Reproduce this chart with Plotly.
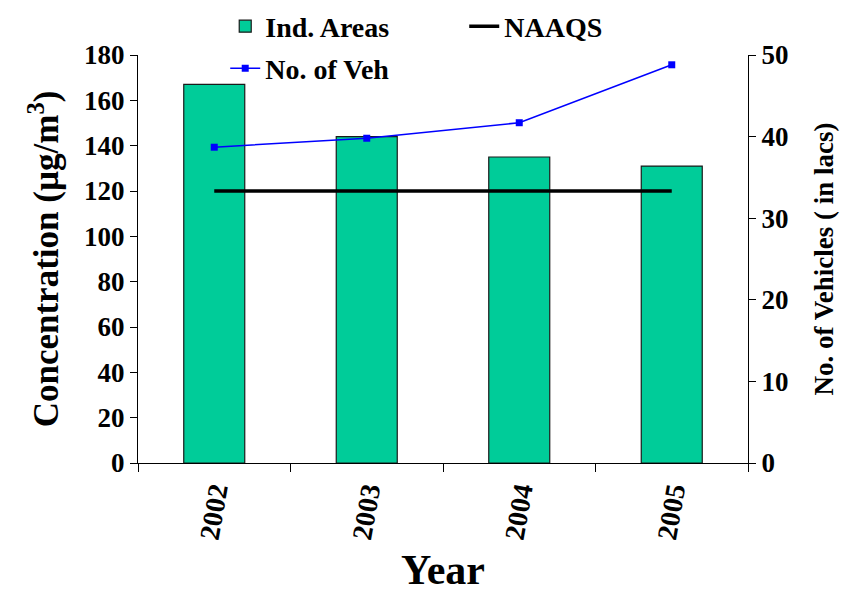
import plotly.graph_objects as go

# data
years = ['2002', '2003', '2004', '2005']
ind_areas = [167, 144, 135, 131]
naaqs = [120, 120, 120, 120]
no_of_veh = [38.7, 39.8, 41.7, 48.8]

font_family = 'Liberation Serif'

fig = go.Figure()

fig.add_trace(go.Bar(
    x=years, y=ind_areas, name='Ind. Areas',
    marker=dict(color='#00CC99', line=dict(color='#1a1a1a', width=1.2)),
    width=0.4, legend='legend',
))
fig.add_trace(go.Scatter(
    x=years, y=naaqs, name='NAAQS', mode='lines',
    line=dict(color='black', width=3.5), legend='legend',
))
fig.add_trace(go.Scatter(
    x=years, y=no_of_veh, name='No. of Veh', mode='lines+markers',
    line=dict(color='#0000FF', width=1.5),
    marker=dict(symbol='square', size=7, color='#0000FF'),
    yaxis='y2', legend='legend2',
))

# page body has an 8px margin, so the figure is sized/offset to compensate
fig.update_layout(
    width=846, height=585,
    margin=dict(l=130, r=106, t=47, b=130, autoexpand=False),
    plot_bgcolor='white', paper_bgcolor='white',
    font=dict(family=font_family, color='black'),
    legend=dict(
        orientation='h', x=0.143, xanchor='left', y=1.07, yanchor='middle',
        font=dict(size=28, family=font_family, weight='bold'),
        entrywidth=194, bgcolor='rgba(0,0,0,0)',
    ),
    legend2=dict(
        orientation='h', x=0.143, xanchor='left', y=0.967, yanchor='middle',
        font=dict(size=28, family=font_family, weight='bold'),
        bgcolor='rgba(0,0,0,0)',
    ),
    xaxis=dict(
        title=dict(text='Year', font=dict(size=42, weight='bold'), standoff=16),
        tickangle=-80,
        tickfont=dict(size=28, weight='bold'),
        showline=True, linecolor='black', linewidth=1,
        ticks='outside', tickson='boundaries', ticklen=8, tickcolor='black',
        showgrid=False,
    ),
    yaxis=dict(
        title=dict(text='Concentration (µg/m<sup>3</sup>)', font=dict(size=35, weight='bold'), standoff=14),
        range=[0, 180], dtick=20,
        tickfont=dict(size=27, weight='bold'),
        showline=True, linecolor='black', linewidth=1,
        ticks='outside', ticklen=7, tickcolor='black',
        showgrid=False, zeroline=False,
    ),
    yaxis2=dict(
        title=dict(text='No. of Vehicles ( in lacs)', font=dict(size=27, weight='bold'), standoff=26),
        overlaying='y', side='right',
        range=[0, 50], dtick=10,
        tickfont=dict(size=27, weight='bold'),
        showline=True, linecolor='black', linewidth=1,
        ticks='outside', ticklen=7, tickcolor='black',
        showgrid=False, zeroline=False,
    ),
)

fig.write_html("out.html")
